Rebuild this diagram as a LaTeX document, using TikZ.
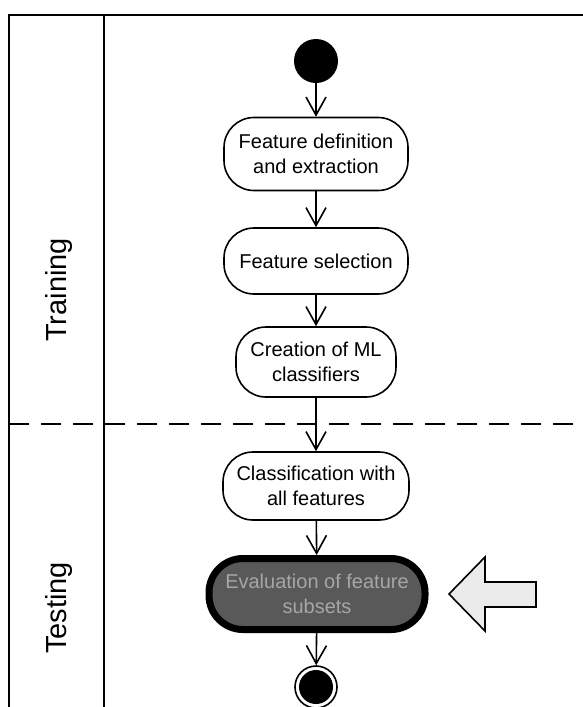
\documentclass[tikz,border=0pt]{standalone}
\usepackage{fontspec}
\setmainfont{Liberation Sans}
\usetikzlibrary{arrows.meta}
\begin{document}
\begin{tikzpicture}[x=0.5pt,y=-0.5pt,
  act/.style={draw=black,line width=0.8pt,rounded corners=15pt,align=center,
    font=\fontsize{10}{12.5}\selectfont,inner sep=0pt,minimum width=92pt},
  arr/.style={-{Straight Barb[length=9pt,width=10pt,line width=0.8pt]},line width=0.8pt},
  lane/.style={line width=1.2pt},
  lanelabel/.style={rotate=90,anchor=base,font=\fontsize{14.5}{17}\selectfont}]
\useasboundingbox (0,0) rectangle (583,707);
% swimlane frame
\draw[lane] (9,707) -- (9,15) -- (583,15);
\draw[lane] (104,15) -- (104,707);
\draw[line width=1pt,dash pattern=on 10pt off 6pt] (9,424) -- (583,424);
\node[lanelabel] (train) at (66,290) {Training};
\node[lanelabel] (test) at (66,608) {Testing};
% activity nodes
\node[circle,fill=black,minimum size=22pt,inner sep=0pt] (start) at (316,61) {};
\node[act,minimum height=36.5pt] (n1) at (316,154) {Feature definition\\and extraction};
\node[act,minimum height=33pt] (n2) at (316,261) {Feature selection};
\node[act,minimum width=80pt,minimum height=35pt] (n3) at (316,362) {Creation of ML\\classifiers};
\node[act,minimum width=93pt,minimum height=34pt] (n4) at (316,486) {Classification with\\all features};
\node[act,minimum width=108pt,minimum height=35.5pt,line width=3.5pt,rounded corners=17pt,
  fill=black!65,text=black!35] (n5) at (317,594) {Evaluation of feature\\subsets};
\node[circle,draw=black,line width=0.8pt,minimum size=21pt,inner sep=0pt] (end) at (316,687) {};
\node[circle,fill=black,minimum size=17pt,inner sep=0pt] (endcore) at (end) {};
% connectors
\draw[arr] (start) -- (n1);
\draw[arr] (n1) -- (n2);
\draw[arr] (n2) -- (n3);
\draw[arr] (n3) -- (n4);
\draw[arr] (n4) -- (n5);
\draw[arr] (n5) -- (end);
% block arrow
\draw[line width=0.8pt,fill=black!8] (449,594) -- (485,557) -- (485,582) -- (536,582)
  -- (536,607) -- (485,607) -- (485,631) -- cycle;
\end{tikzpicture}
\end{document}
